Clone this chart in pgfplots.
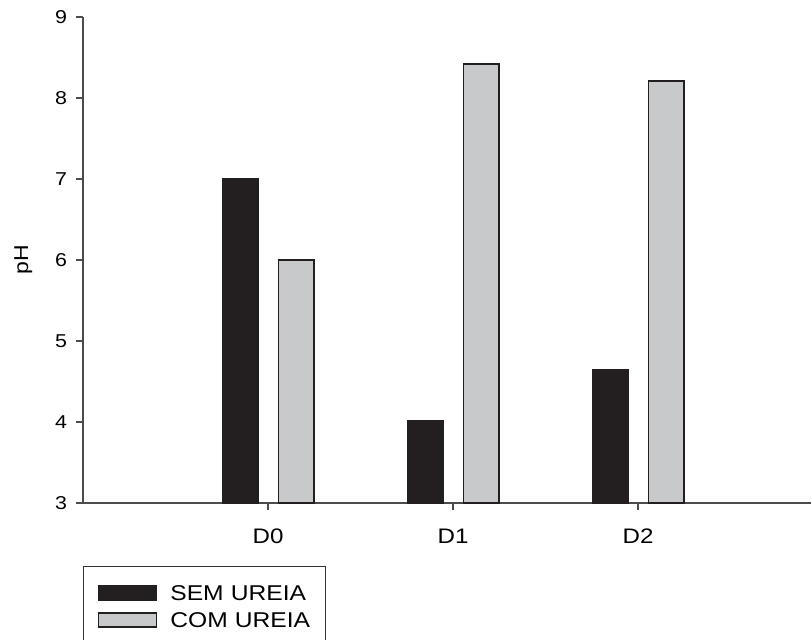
\documentclass[border=0pt]{standalone}
\usepackage{pgfplots}
\pgfplotsset{compat=1.18}
\usepackage{fontspec}
\setmainfont{Liberation Sans}[FakeStretch=1.15]
\definecolor{darkbar}{HTML}{231F20}
\definecolor{lightbar}{HTML}{C8C9CA}
\begin{document}
\begin{tikzpicture}[x=1pt,y=1pt]
\useasboundingbox (0,0) rectangle (406,319.5);
\clip (0,0) rectangle (406,319.5);
\begin{axis}[
  at={(41.5pt,68pt)}, anchor=south west,
  scale only axis, width=364pt, height=243pt,
  xmin=-1, xmax=2.935, ymin=3, ymax=9,
  axis lines=left, axis line style={-, black!70, line width=0.6pt},
  xtick={0,1,2}, xticklabels={D0,D1,D2},
  ytick={3,4,5,6,7,8,9},
  tick align=outside, major tick length=3.5pt,
  tick style={black!70, line width=0.6pt},
  /pgf/number format/assume math mode=true,
  yticklabel style={font=\fontsize{9.3}{11}\selectfont, xshift=-1pt},
  xticklabel style={font=\fontsize{10.5}{13}\selectfont, yshift=-6pt},
  ylabel={pH}, ylabel style={font=\fontsize{10.5}{13}\selectfont},
  every axis y label/.style={at={(axis description cs:-0.082,0.5)}, rotate=90, anchor=center},
  legend style={at={(axis description cs:0,-0.1296)}, anchor=north west,
    draw=black!80, line width=0.6pt, font=\fontsize{10.7}{13}\selectfont,
    inner xsep=7pt, inner ysep=7.25pt, row sep=0pt,
    nodes={text width=68.5pt, text height=8pt, text depth=2pt, inner ysep=1.75pt}},
  legend cell align=left,
  legend image code/.code={\draw[#1, line width=0.8pt] (0pt,-2.8pt) rectangle (29pt,4.2pt);
    \path[draw=none, fill=none] (0pt,0pt) -- (34pt,0pt);},
]
\addplot[ybar, bar width=0.19, bar shift=-0.148, fill=darkbar, draw=darkbar, line width=0.6pt]
  coordinates {(0,7.00) (1,4.02) (2,4.65)};
\addlegendentry{\mbox{SEM UREIA}}
\addplot[ybar, bar width=0.19, bar shift=0.152, fill=lightbar, draw=darkbar, line width=0.8pt]
  coordinates {(0,6.00) (1,8.42) (2,8.21)};
\addlegendentry{\mbox{COM UREIA}}
\end{axis}
\end{tikzpicture}
\end{document}
